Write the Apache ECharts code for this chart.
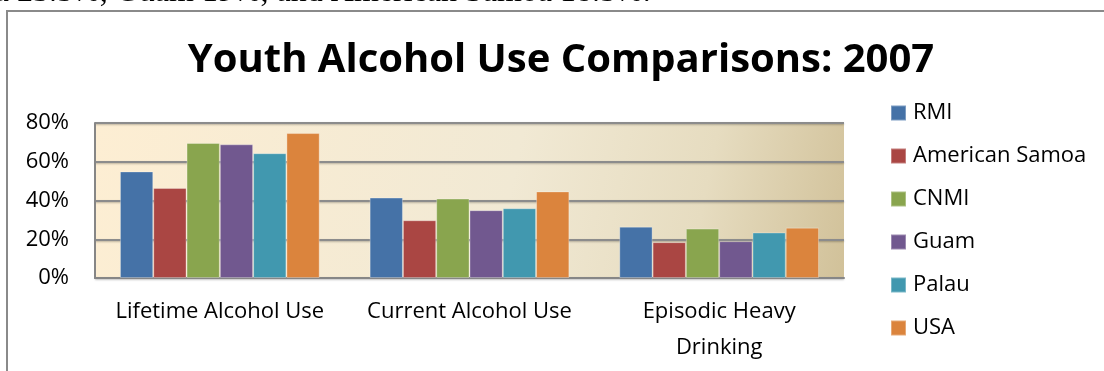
<!DOCTYPE html>
<html>
<head>
<meta charset="utf-8">
<script src="https://cdn.jsdelivr.net/npm/echarts@6/dist/echarts.min.js"></script>
<style>
  html, body { margin: 0; padding: 0; background: #ffffff; }
  #chart { width: 1104px; height: 371px; }
</style>
</head>
<body>
<div id="chart"></div>
<script>
// Youth alcohol use, 2007 (percent of youth)
const categories = ['Lifetime Alcohol Use', 'Current Alcohol Use', 'Episodic Heavy\nDrinking'];
const seriesNames = ['RMI', 'American Samoa', 'CNMI', 'Guam', 'Palau', 'USA'];
const rmi = [55, 41.5, 26.5];
const americanSamoa = [46.5, 29.8, 18.5];
const cnmi = [69.7, 41, 25.5];
const guam = [69, 35, 19];
const palau = [64.4, 36, 23.5];
const usa = [74.8, 44.7, 26];
const yTicks = [0, 20, 40, 60, 80];

const seriesValues = [rmi, americanSamoa, cnmi, guam, palau, usa];
const colors = ['#4572A7', '#AA4643', '#89A54E', '#71588F', '#4198AF', '#DB843D'];
const FONT = '"Open Sans", "Noto Sans", sans-serif';

const chart = echarts.init(document.getElementById('chart'), null, { renderer: 'canvas' });

chart.setOption({
  animation: false,
  color: colors,
  textStyle: { fontFamily: FONT },
  graphic: [
    {
      type: 'text',
      x: -62, y: -7,
      style: {
        text: 'Palau 23.5%, Guam 19%, and American Samoa 18.5%.',
        font: '32px "Liberation Serif", "Times New Roman", serif',
        fill: '#000',
        verticalAlign: 'middle'
      },
      z: 10
    },
    {
      type: 'rect',
      shape: { x: 7, y: 11, width: 1120, height: 400 },
      style: { fill: 'none', stroke: '#8a8a8a', lineWidth: 2 },
      z: 10
    },
    {
      type: 'text',
      x: 561, y: 61,
      style: {
        text: 'Youth Alcohol Use Comparisons: 2007',
        font: 'bold 40px ' + FONT,
        fill: '#000',
        align: 'center',
        verticalAlign: 'middle'
      },
      z: 10
    }
  ],
  legend: {
    orient: 'vertical',
    left: 885,
    top: 97,
    itemWidth: 15,
    itemHeight: 15,
    itemGap: 21,
    icon: 'rect',
    textStyle: { fontFamily: FONT, fontSize: 22, color: '#000', lineHeight: 22, padding: [0, 0, 0, 2] },
    data: seriesNames
  },
  grid: {
    left: 95, right: 260, top: 123, bottom: 93,
    show: true,
    borderWidth: 0,
    backgroundColor: new echarts.graphic.LinearGradient(0, 0, 1, 1, [
      { offset: 0, color: '#FDEED3' },
      { offset: 0.55, color: '#F1E9D4' },
      { offset: 0.8, color: '#E6DCC0' },
      { offset: 1, color: '#D1C199' }
    ])
  },
  xAxis: {
    type: 'category',
    data: categories,
    axisTick: { show: false },
    axisLine: { show: true, lineStyle: { color: '#868686', width: 2 } },
    axisLabel: {
      color: '#000', fontSize: 22, fontFamily: FONT,
      lineHeight: 36, margin: 16, interval: 0
    }
  },
  yAxis: {
    type: 'value',
    min: yTicks[0],
    max: yTicks[yTicks.length - 1],
    interval: 20,
    axisLine: { show: true, lineStyle: { color: '#868686', width: 2 } },
    axisTick: { show: false },
    axisLabel: {
      color: '#000', fontSize: 22, fontFamily: FONT, margin: 26,
      formatter: '{value}%'
    },
    splitLine: {
      show: true,
      lineStyle: {
        color: '#8c8c8c', width: 2,
        shadowColor: 'rgba(0,0,0,0.25)', shadowBlur: 2, shadowOffsetY: 1
      }
    }
  },
  series: seriesNames.map((name, i) => ({
    name: name,
    type: 'bar',
    data: seriesValues[i],
    barGap: '0%',
    barCategoryGap: '20%',
    itemStyle: {
      color: colors[i],
      borderColor: 'rgba(255,255,255,0.3)',
      borderWidth: 1
    }
  }))
});
</script>
</body>
</html>
